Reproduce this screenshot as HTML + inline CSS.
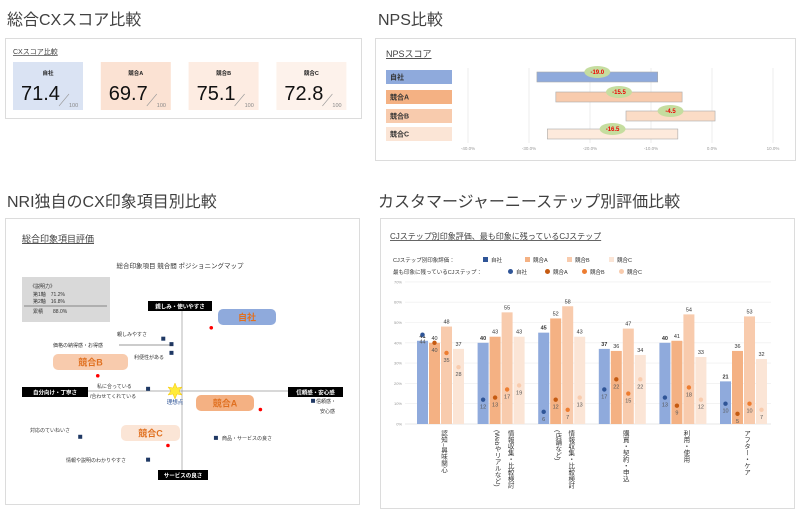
<!DOCTYPE html>
<html><head><meta charset="utf-8"><style>
html,body{margin:0;padding:0;background:#fff;}
svg{display:block;font-family:"Liberation Sans","Noto Sans CJK JP",sans-serif;}
</style></head><body>
<svg id="s" width="800" height="516" viewBox="0 0 800 516" xmlns="http://www.w3.org/2000/svg">
<!-- section titles -->
<text x="7" y="25" font-size="16" fill="#404040">総合CXスコア比較</text>
<text x="378" y="25" font-size="16" fill="#404040">NPS比較</text>
<text x="7" y="207" font-size="16" fill="#404040">NRI独自のCX印象項目別比較</text>
<text x="378" y="207" font-size="16" fill="#404040">カスタマージャーニーステップ別評価比較</text>

<!-- panels -->
<rect x="5.5" y="38.5" width="356" height="80" fill="#fff" stroke="#dcdcdc"/>
<rect x="375.5" y="38.5" width="420" height="122" fill="#fff" stroke="#dcdcdc"/>
<rect x="5.5" y="218.5" width="354" height="286" fill="#fff" stroke="#dcdcdc"/>
<rect x="380.5" y="218.5" width="414" height="290" fill="#fff" stroke="#dcdcdc"/>

<text x="13" y="54" font-size="7" fill="#404040" text-decoration="underline">CXスコア比較</text>
<g id="cx"></g>

<text x="386" y="57" font-size="9" fill="#404040" text-decoration="underline">NPSスコア</text>
<g id="nps"></g>

<text x="22" y="242" font-size="9" fill="#404040" text-decoration="underline">総合印象項目評価</text>
<text x="180" y="268" font-size="6.5" fill="#333" text-anchor="middle">総合印象項目 競合間 ポジショニングマップ</text>
<rect x="22" y="277" width="88" height="45" fill="#d9d9d9"/>
<g font-size="5" fill="#333">
<text x="30" y="288">《説明力》</text>
<text x="33" y="296">第1軸　71.2%</text>
<text x="33" y="303">第2軸　16.8%</text>
<line x1="24" y1="306" x2="107" y2="306" stroke="#333" stroke-width="0.6"/>
<text x="33" y="313">累積　　88.0%</text>
</g>
<g id="map"></g>

<text x="390" y="239" font-size="8" fill="#404040" text-decoration="underline">CJステップ別印象評価、最も印象に残っているCJステップ</text>
<g id="cj"></g>
</svg>
<script>
const NS="http://www.w3.org/2000/svg";
function mk(parent,tag,attrs,txt){const e=document.createElementNS(NS,tag);for(const k in attrs)e.setAttribute(k,attrs[k]);if(txt!==undefined)e.textContent=txt;parent.appendChild(e);return e;}

/* ---------- CX score cards ---------- */
const cxNames=["自社","競合A","競合B","競合C"];
const cxScores=[71.4,69.7,75.1,72.8];
const cxColors=["#dae3f3","#fbe2d3","#fdece2","#fdf2eb"];
const cx=document.getElementById('cx');
cxNames.forEach((n,i)=>{
  const x=13+i*87.8;
  const r=mk(cx,'rect',{x:x,y:62,width:70,height:48,fill:cxColors[i]});
  
  
  const t=mk(cx,'text',{x:x+35,y:75,'font-size':5.5,'font-weight':'bold','text-anchor':'middle',fill:'#222'},n);
  
  
  const v=mk(cx,'text',{x:x+8,y:100,'font-size':20,fill:'#111'},cxScores[i].toFixed(1));
  
  
  mk(cx,'line',{x1:x+56,y1:94,x2:x+46,y2:106,stroke:'#999','stroke-width':0.6});
  const d=mk(cx,'text',{x:x+56,y:107,'font-size':5.5,fill:'#888'},'/100'.slice(1));
  
  
});

/* ---------- NPS chart ---------- */
const npsNames=["自社","競合A","競合B","競合C"];
const npsLow=[-28.7,-25.6,-14.1,-27.0];
const npsHigh=[-8.9,-4.9,0.5,-5.6];
const npsLabels=["-19.0","-15.5","-4.5","-16.5"];
const npsTicks=[-40,-30,-20,-10,0,10];
const npsBarColors=["#8faadc","#f8cbad","#fbdcc6","#fdeadc"];
const npsBoxColors=["#8faadc","#f4b183","#f8cbad","#fbe5d6"];
const nps=document.getElementById('nps');
const nx=v=>712+v*6.1;
const rowY=[77,97,116,134];
npsTicks.forEach(t=>{
  const l=mk(nps,'line',{x1:nx(t),y1:68,x2:nx(t),y2:143,stroke:'#e6e6e6','stroke-width':0.7});
  
  
  const tx=mk(nps,'text',{x:nx(t),y:150,'font-size':4.5,fill:'#999','text-anchor':'middle'},t.toFixed(1)+'%');
  
  
});
npsNames.forEach((n,i)=>{
  const y=rowY[i];
  const b=mk(nps,'rect',{x:386,y:y-7,width:66,height:14,fill:npsBoxColors[i]});
  
  
  const t=mk(nps,'text',{x:390,y:y+2.5,'font-size':7,'font-weight':'bold',fill:'#333'},n);
  
  
  const bar=mk(nps,'rect',{x:nx(npsLow[i]),y:y-5,width:nx(npsHigh[i])-nx(npsLow[i]),height:10,fill:npsBarColors[i],stroke:'#aaa','stroke-width':0.6});
  
  
  const mid=nx((npsLow[i]+npsHigh[i])/2);
  const e=mk(nps,'ellipse',{cx:mid,cy:y-5,rx:13,ry:6,fill:'#c5dd9f'});
  
  
  const et=mk(nps,'text',{x:mid,y:y-3,'font-size':6,'font-weight':'bold',fill:'#e00','text-anchor':'middle'},npsLabels[i]);
  
  
});

/* ---------- Positioning map ---------- */
const map=document.getElementById('map');
mk(map,'line',{x1:182,y1:300,x2:182,y2:472,stroke:'#999','stroke-width':0.7});
mk(map,'line',{x1:86,y1:391,x2:290,y2:391,stroke:'#999','stroke-width':0.7});
[[148,301,64,'親しみ・使いやすさ',305],[22,387,66,'自分向け・丁寧さ',391],[288,387,55,'信頼感・安心感',391],[158,470,50,'サービスの良さ',474]].forEach(a=>{
  const r=mk(map,'rect',{x:a[0],y:a[1],width:a[2],height:10,fill:'#000'});
  
  
  const t=mk(map,'text',{x:a[0]+a[2]/2,y:a[1]+7.5,'font-size':5.5,'font-weight':'bold',fill:'#fff','text-anchor':'middle'},a[3]);
  
  
});
const mapCompNames=["自社","競合B","競合A","競合C"];
const mapCompPills=[[218,309,58,"#8faadc"],[53,354,75,"#f8cbad"],[196,395,58,"#f4b183"],[121,425,59,"#fbe5d6"]];
mapCompNames.forEach((n,i)=>{
  const p=mapCompPills[i];
  const r=mk(map,'rect',{x:p[0],y:p[1],width:p[2],height:16,rx:5,fill:p[3]});
  
  
  const t=mk(map,'text',{x:p[0]+p[2]/2,y:p[1]+11.5,'font-size':9,'font-weight':'bold',fill:'#e07020','text-anchor':'middle'},n);
  
  
});
const mapCompX=[0.25,-0.72,0.67,-0.12];
const mapCompY=[0.58,0.14,-0.17,-0.50];
const mx=v=>182+v*117, my=v=>391-v*109;
mapCompX.forEach((v,i)=>{
  const c=mk(map,'circle',{cx:mx(v),cy:my(mapCompY[i]),r:1.8,fill:'#f00'});
  
  
});
const itemNames=["親しみやすさ","価格の納得感・お得感","利便性がある","私に合っている","信頼感・","商品・サービスの良さ","対応のていねいさ","情報や説明のわかりやすさ"];
const itemX=[-0.16,-0.09,-0.09,-0.29,1.12,0.29,-0.87,-0.29];
const itemY=[0.48,0.43,0.35,0.02,-0.09,-0.43,-0.42,-0.63];
itemX.forEach((v,i)=>{
  const x=mx(v),y=my(itemY[i]);
  const s=mk(map,'rect',{x:x-2,y:y-2,width:4,height:4,fill:'#1f3864'});
  
  
});
[[117,336,'親しみやすさ','start'],[53,347,'価格の納得感・お得感','start'],[134,359,'利便性がある','start'],[97,388,'私に合っている','start'],[90,398,'/合わせてくれている','start'],[316,403,'信頼感・','start'],[320,413,'安心感','start'],[222,440,'商品・サービスの良さ','start'],[30,432,'対応のていねいさ','start'],[66,462,'情報や説明のわかりやすさ','start']].forEach(a=>{
  const t=mk(map,'text',{x:a[0],y:a[1],'font-size':5,fill:'#333','text-anchor':a[3]},a[2]);
  
  
});
mk(map,'line',{x1:119,y1:345,x2:172,y2:345,stroke:'#333','stroke-width':0.5});
const star=mk(map,'polygon',{points:'175,383 177,388 182,387 179,391 182,395 177,394 175,399 173,394 168,395 171,391 168,387 173,388',fill:'#ffeb3b',stroke:'#f5c400','stroke-width':0.5});


const sl=mk(map,'text',{x:175,y:404,'font-size':5.5,fill:'#2f5597','text-anchor':'middle'},'理想点');



/* ---------- Customer journey chart ---------- */
const cjSteps=[["認知~興味関心"],["情報収集・比較検討","(Webやリアルなど)"],["情報収集・比較検討","(店舗など)"],["購買・契約・申込"],["利用・使用"],["アフター・ケア"]];
const cjSeries=["自社","競合A","競合B","競合C"];
const barOwn=[41,40,45,37,40,21];
const barA=[40,43,52,36,41,36];
const barB=[48,55,58,47,54,53];
const barC=[37,43,43,34,33,32];
const dotOwn=[44,12,6,17,13,10];
const dotA=[40,13,12,22,9,5];
const dotB=[35,17,7,15,18,10];
const dotC=[28,19,13,22,12,7];
const cjTicks=[0,10,20,30,40,50,60,70];
const barColors=["#8faadc","#f4b183","#f8cbad","#fbe5d6"];
const dotColors=["#2f5597","#c55a11","#ed7d31","#f8cbad"];
const cj=document.getElementById('cj');
const y0=424, yScale=2.03;
const cy=v=>y0-v*yScale;
const gx=i=>417+i*60.6;
cjTicks.forEach(t=>{
  const l=mk(cj,'line',{x1:405,y1:cy(t),x2:771,y2:cy(t),stroke:t===0?'#d0d0d0':'#ececec','stroke-width':0.6});
  
  
  const tx=mk(cj,'text',{x:402,y:cy(t)+1.5,'font-size':4,fill:'#999','text-anchor':'end'},t+'%');
  
  
});
const bars=[barOwn,barA,barB,barC], dots=[dotOwn,dotA,dotB,dotC];
cjSteps.forEach((st,g)=>{
  for(let s=0;s<4;s++){
    const x=gx(g)+s*12;
    const v=bars[s][g];
    const b=mk(cj,'rect',{x:x,y:cy(v),width:11,height:v*yScale,fill:barColors[s]});
    
    
    const bl=mk(cj,'text',{x:x+5.5,y:cy(v)-3,'font-size':5.5,'font-weight':s===0?'bold':'normal',fill:'#333','text-anchor':'middle'},v);
    
    
    const d=dots[s][g];
    const c=mk(cj,'circle',{cx:x+5.5,cy:cy(d),r:2.2,fill:dotColors[s]});
    
    
    const dl=mk(cj,'text',{x:x+5.5,y:cy(d)+9,'font-size':5.5,fill:'#555','text-anchor':'middle'},d);
    
    
  }
  st.forEach((lab,k)=>{
    const lx=gx(g)+26-(k*13)+(st.length>1?6:0);
    const t=mk(cj,'text',{x:lx,y:430,'font-size':6.5,fill:'#333',style:'writing-mode:vertical-rl;'},lab);
    
    
  });
});
/* legend */
const lg=[["CJステップ別印象評価：",260,'rect'],["最も印象に残っているCJステップ：",272,'circle']];
lg.forEach((row,r)=>{
  const t=mk(cj,'text',{x:393,y:row[1]+2,'font-size':5.5,fill:'#333'},row[0]);
  
  
  const base=r===0?483:508;
  cjSeries.forEach((n,s)=>{
    const x=base+s*(r===0?42:37);
    const m=row[2]==='rect'?mk(cj,'rect',{x:x,y:row[1]-3,width:5,height:5,fill:r===0?(s===0?'#2f5597':barColors[s]):''}):mk(cj,'circle',{cx:x+2.5,cy:row[1]-0.5,r:2.5,fill:dotColors[s]});
    
    
    const lt=mk(cj,'text',{x:x+8,y:row[1]+2,'font-size':5.5,fill:'#333'},n);
    
    
  });
});
</script>
</body></html>
